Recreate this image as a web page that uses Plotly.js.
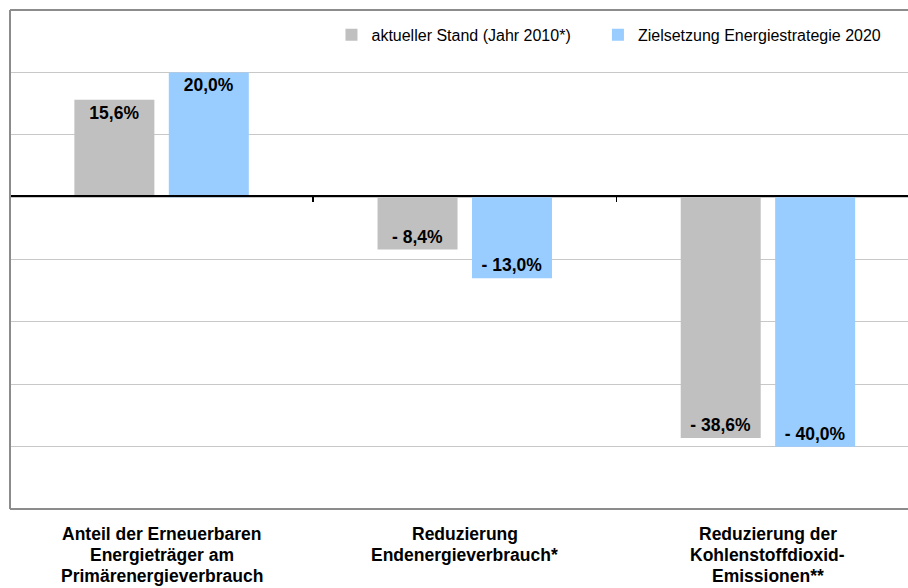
<!DOCTYPE html>
<html>
<head>
<meta charset="utf-8">
<script src="https://cdn.plot.ly/plotly-3.0.1.min.js"></script>
<style>html,body{margin:0;padding:0;background:#fff;}#chart{width:908px;height:588px;}</style>
</head>
<body>
<div id="chart"></div>
<script>
const categories = ["cat1", "cat2", "cat3"];
const categoryLabels = [
  ["Anteil der Erneuerbaren", "Energieträger am", "Primärenergieverbrauch"],
  ["Reduzierung", "Endenergieverbrauch*"],
  ["Reduzierung der", "Kohlenstoffdioxid-", "Emissionen**"]
];
const seriesNames = ["aktueller Stand (Jahr 2010*)", "Zielsetzung Energiestrategie 2020"];
const aktuell = [15.6, -8.4, -38.6];
const ziel = [20.0, -13.0, -40.0];
const colors = ["#C0C0C0", "#99CCFF"];

function fmt(v) {
  const s = Math.abs(v).toFixed(1).replace(".", ",") + "%";
  return v < 0 ? "- " + s : s;
}

const FONT = "Liberation Sans, Arial, Helvetica, sans-serif";
const PAD = "\u00a0\u00a0\u00a0\u00a0\u00a0";

function trace(name, vals, color) {
  return {
    type: "bar", name: name, x: categories, y: vals,
    marker: {color: color, line: {width: 0}},
    text: vals.map(fmt), textposition: "inside", insidetextanchor: "end",
    textangle: 0, constraintext: "none",
    textfont: {family: FONT, size: 17.5, color: "#000", weight: "bold"},
    hoverinfo: "skip"
  };
}

const data = [
  trace(seriesNames[0] + PAD, aktuell, colors[0]),
  trace(seriesNames[1], ziel, colors[1])
];

const annotations = [];
categories.forEach((c, i) => {
  categoryLabels[i].forEach((line, k) => {
    annotations.push({
      x: c, xref: "x", y: -0.026, yref: "paper", yanchor: "top", xanchor: "center",
      yshift: -21 * k,
      text: line, showarrow: false, align: "center",
      font: {family: FONT, size: 17.5, color: "#000", weight: "bold"}
    });
  });
});

const frameColor = "#8c8c8c";
const shapes = [
  {type: "line", xref: "paper", yref: "paper", x0: 0, x1: 1.02, y0: 1, y1: 1, line: {color: frameColor, width: 2}},
  {type: "line", xref: "paper", yref: "paper", x0: 0, x1: 1.02, y0: 0, y1: 0, line: {color: frameColor, width: 2}},
  {type: "line", xref: "paper", yref: "paper", x0: 0, x1: 0, y0: 0, y1: 1, line: {color: frameColor, width: 2}}
];

const layout = {
  width: 908, height: 588,
  margin: {l: 10, r: 0, t: 10, b: 79, pad: 0},
  paper_bgcolor: "#fff", plot_bgcolor: "#fff",
  font: {family: FONT, color: "#000"},
  barmode: "group", bargap: 0.377, bargroupgap: 0.153,
  showlegend: true,
  legend: {
    orientation: "h", x: 0.358, xanchor: "left", y: 0.95, yanchor: "middle",
    font: {family: FONT, size: 16, color: "#000"},
    bgcolor: "rgba(0,0,0,0)", traceorder: "normal"
  },
  xaxis: {
    type: "category", range: [-0.5, 2.462], fixedrange: true,
    anchor: "free", position: 0.6285,
    showline: true, linecolor: "#000", linewidth: 1.5,
    ticks: "outside", tickson: "boundaries", ticklen: 5, tickwidth: 1.5, tickcolor: "#000",
    showticklabels: false, showgrid: false, zeroline: false
  },
  yaxis: {
    range: [-50, 30], dtick: 10, tick0: 0, fixedrange: true,
    showticklabels: false, ticks: "",
    showgrid: true, gridcolor: "#c8c8c8", gridwidth: 1,
    zeroline: false, showline: false
  },
  annotations: annotations,
  shapes: shapes
};

Plotly.newPlot("chart", data, layout, {displayModeBar: false, staticPlot: true});
</script>
</body>
</html>
